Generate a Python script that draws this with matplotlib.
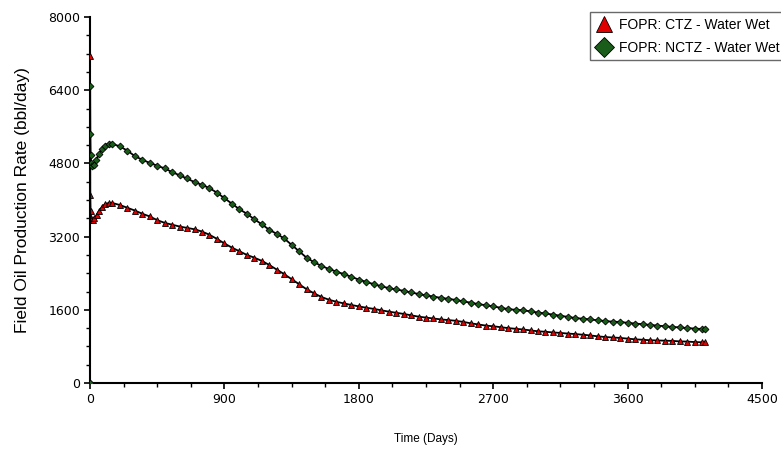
import numpy as np
from matplotlib import pyplot as plt
from matplotlib.ticker import MultipleLocator

plt.rcParams['font.family'] = ['Liberation Sans', 'DejaVu Sans']

# FOPR: CTZ - Water Wet
days_ctz = [0, 2, 4, 6, 10, 20, 30, 45, 60, 80, 100, 130] + list(range(150, 4101, 50)) + [4120]
fopr_ctz = [7150, 4100, 3750, 3600, 3560, 3570, 3600, 3680, 3760, 3850, 3910, 3940,
            3935, 3890, 3830, 3770, 3700, 3640, 3560, 3500, 3460, 3420,
            3390, 3360, 3310, 3240, 3150, 3050, 2960, 2880, 2800, 2740,
            2670, 2580, 2480, 2380, 2270, 2160, 2050, 1960, 1880, 1820,
            1775, 1740, 1705, 1675, 1645, 1620, 1590, 1560, 1535, 1510,
            1480, 1450, 1430, 1410, 1390, 1375, 1360, 1335, 1305, 1280,
            1255, 1240, 1220, 1200, 1185, 1170, 1150, 1130, 1120, 1105,
            1095, 1080, 1070, 1055, 1040, 1020, 1005, 995, 985, 970,
            955, 945, 935, 930, 925, 920, 910, 905, 895, 890, 888]

# FOPR: NCTZ - Water Wet
days_nctz = [0, 1, 2, 4, 8, 15, 25, 40, 60, 80, 100, 125] + list(range(150, 4101, 50)) + [4120]
fopr_nctz = [0, 6500, 5450, 4980, 4800, 4750, 4760, 4870, 5000, 5110, 5190, 5230,
             5230, 5170, 5080, 4960, 4880, 4810, 4750, 4690, 4610, 4540,
             4470, 4390, 4330, 4260, 4160, 4040, 3920, 3800, 3700, 3580,
             3470, 3350, 3260, 3160, 3020, 2880, 2740, 2640, 2560, 2490,
             2435, 2380, 2320, 2260, 2210, 2160, 2115, 2075, 2045, 2015,
             1980, 1945, 1915, 1890, 1860, 1840, 1815, 1785, 1755, 1725,
             1700, 1675, 1645, 1615, 1600, 1590, 1565, 1540, 1520, 1495,
             1470, 1445, 1420, 1405, 1390, 1370, 1355, 1340, 1335, 1315,
             1300, 1285, 1270, 1255, 1240, 1225, 1215, 1200, 1190, 1180, 1175]

fig = plt.figure(figsize=(7.81, 4.54), dpi=100)
ax = fig.add_axes([90/781, 1-383/454, 672/781, 366/454])

ax.plot(days_ctz, fopr_ctz, color='black', lw=1.3, marker='^', ms=4,
        mfc='#e00000', mec='black', mew=0.6, label='FOPR: CTZ - Water Wet', zorder=3)
ax.plot(days_nctz, fopr_nctz, color='black', lw=1.3, marker='D', ms=3.5,
        mfc='#1a5c1a', mec='black', mew=0.6, label='FOPR: NCTZ - Water Wet', zorder=3)

ax.set_xlim(0, 4500)
ax.set_ylim(0, 8000)
ax.xaxis.set_major_locator(MultipleLocator(900))
ax.xaxis.set_minor_locator(MultipleLocator(225))
ax.yaxis.set_major_locator(MultipleLocator(1600))
ax.yaxis.set_minor_locator(MultipleLocator(400))

for s in ['top', 'right']:
    ax.spines[s].set_visible(False)
for s in ['left', 'bottom']:
    ax.spines[s].set_linewidth(1.5)
ax.tick_params(which='major', length=4, width=1.2, labelsize=9, pad=3)
ax.tick_params(which='minor', length=3, width=1)
for lbl in ax.get_xticklabels() + ax.get_yticklabels():
    lbl.set_family(['DejaVu Sans'])

ax.set_xlabel('Time (Days)', fontsize=8.5)
ax.xaxis.set_label_coords(0.5, -50/366)
ax.set_ylabel('Field Oil Production Rate (bbl/day)', fontsize=12.5)
ax.yaxis.set_label_coords(-60/672, 0.5)

leg = ax.legend(loc='upper left', bbox_to_anchor=(590/781, 1-12/454),
                bbox_transform=fig.transFigure, fontsize=10, frameon=True,
                fancybox=False, borderpad=0.4, handlelength=1.2, handletextpad=0.5,
                labelspacing=0.65, markerscale=3.0, borderaxespad=0)
leg.get_frame().set_edgecolor('#444444')
leg.get_frame().set_linewidth(1)
for h in leg.legend_handles:
    h.set_linestyle('')

plt.savefig('out.png', dpi=100)
